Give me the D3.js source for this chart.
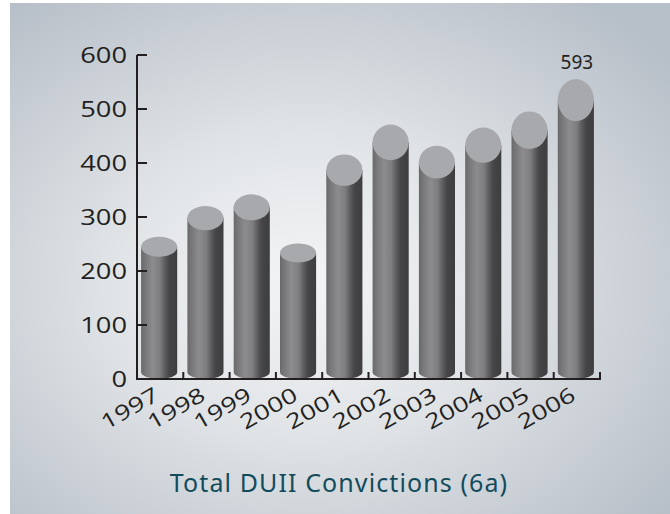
<!DOCTYPE html>
<html>
<head>
<meta charset="utf-8">
<script src="https://cdn.jsdelivr.net/npm/d3@7"></script>
<style>
  html, body { margin: 0; padding: 0; background: #fff; }
  svg { display: block; }
</style>
</head>
<body>
<div id="chart"></div>
<script>
// data ------------------------------------------------------
var years = ["1997", "1998", "1999", "2000", "2001", "2002", "2003", "2004", "2005", "2006"];
var convictions = [281, 342, 365, 268, 444, 503, 461, 497, 529, 593];
var yTicks = [0, 100, 200, 300, 400, 500, 600];
var chartTitle = "Total DUII Convictions (6a)";

var W = 670, H = 514;
var svg = d3.select("#chart").append("svg").attr("width", W).attr("height", H);
var defs = svg.append("defs");

// fondo con degradado radial
var bg = defs.append("radialGradient").attr("id", "bg")
  .attr("cx", "45%").attr("cy", "55%").attr("r", "70%");
bg.append("stop").attr("offset", "0%").attr("stop-color", "#f3f4f5");
bg.append("stop").attr("offset", "40%").attr("stop-color", "#e2e5e8");
bg.append("stop").attr("offset", "100%").attr("stop-color", "#b7bfc8");
svg.append("rect").attr("x", 10).attr("y", 3).attr("width", W - 10).attr("height", H - 3)
  .attr("fill", "url(#bg)");

// degradado del lateral del cilindro
var side = defs.append("linearGradient").attr("id", "side")
  .attr("x1", "0%").attr("x2", "100%").attr("y1", "0%").attr("y2", "0%");
[["0%", "#69696b"], ["12%", "#78787a"], ["32%", "#8c8c8e"], ["52%", "#7e7e80"],
 ["66%", "#5c5c5e"], ["78%", "#454547"], ["100%", "#3e3e40"]].forEach(function (s) {
  side.append("stop").attr("offset", s[0]).attr("stop-color", s[1]);
});

// escalas
var y0 = 379;
var y = d3.scaleLinear().domain([0, 600]).range([y0, 55]);
// las barras están en el plano del fondo del 3D original, así que se ven más cortas que el eje
var yBar = d3.scaleLinear().domain([0, 600]).range([y0, y0 - 303.5]);
var x = d3.scaleBand().domain(years).range([137, 600]).padding(0);

var barW = x.bandwidth() * 0.78;
var rx = barW / 2;
var ryBottom = 7;

// cilindros
var bars = svg.append("g").selectAll("g.bar")
  .data(years.map(function (d, i) { return { year: d, value: convictions[i] }; }))
  .enter().append("g").attr("class", "bar");

bars.each(function (d) {
  var g = d3.select(this);
  var cx = x(d.year) + x.bandwidth() / 2 - 1;
  var top = yBar(d.value);
  var ry = 0.07 * (y0 - top);
  var cyTop = top + ry;
  var cyBot = y0 - ryBottom;
  g.append("path")
    .attr("d", "M" + (cx - rx) + "," + cyTop +
      " L" + (cx - rx) + "," + cyBot +
      " A" + rx + "," + ryBottom + " 0 0 0 " + (cx + rx) + "," + cyBot +
      " L" + (cx + rx) + "," + cyTop + " Z")
    .attr("fill", "url(#side)");
  g.append("ellipse")
    .attr("cx", cx).attr("cy", cyTop).attr("rx", rx).attr("ry", ry)
    .attr("fill", "#a8a9ac");
});

// ejes
var axis = svg.append("g").attr("stroke", "#231f20").attr("stroke-width", 2).attr("fill", "none");
axis.append("path").attr("d", "M137," + y(600) + " L137," + y0 + " L601," + y0);
yTicks.forEach(function (t) {
  axis.append("line").attr("x1", 137).attr("x2", 147).attr("y1", y(t)).attr("y2", y(t));
});
years.forEach(function (yr) {
  var bx = x(yr) + x.bandwidth();
  axis.append("line").attr("x1", bx).attr("x2", bx).attr("y1", y0).attr("y2", y0 - 7);
});

// etiquetas eje Y (letra ancha tipo Century Gothic)
svg.append("g").selectAll("text").data(yTicks).enter().append("text")
  .attr("transform", function (d) { return "translate(127," + y(d) + ") scale(1.3,1)"; })
  .attr("dy", "0.36em")
  .attr("text-anchor", "end")
  .attr("font-family", "Open Sans")
  .attr("font-size", 21)
  .attr("fill", "#231f20")
  .text(function (d) { return d; });

// etiquetas eje X (rotadas)
svg.append("g").selectAll("text").data(years).enter().append("text")
  .attr("transform", function (d) {
    return "translate(" + (x(d) + x.bandwidth() / 2 - 5) + "," + (y0 + 11) + ") rotate(-30) scale(1.3,1)";
  })
  .attr("text-anchor", "end")
  .attr("dy", "0.5em")
  .attr("font-family", "Open Sans")
  .attr("font-size", 21)
  .attr("fill", "#231f20")
  .text(function (d) { return d; });

// valor del último año
var last = years.length - 1;
svg.append("text")
  .attr("x", x(years[last]) + x.bandwidth() / 2)
  .attr("y", 69)
  .attr("text-anchor", "middle")
  .attr("font-family", "Noto Sans")
  .attr("font-size", 19)
  .attr("fill", "#231f20")
  .text(convictions[last]);

// título
svg.append("text")
  .attr("x", 339).attr("y", 492)
  .attr("text-anchor", "middle")
  .attr("font-family", "Noto Sans")
  .attr("font-size", 25)
  .attr("letter-spacing", 1.1)
  .attr("fill", "#124c5c")
  .text(chartTitle);
</script>
</body>
</html>
